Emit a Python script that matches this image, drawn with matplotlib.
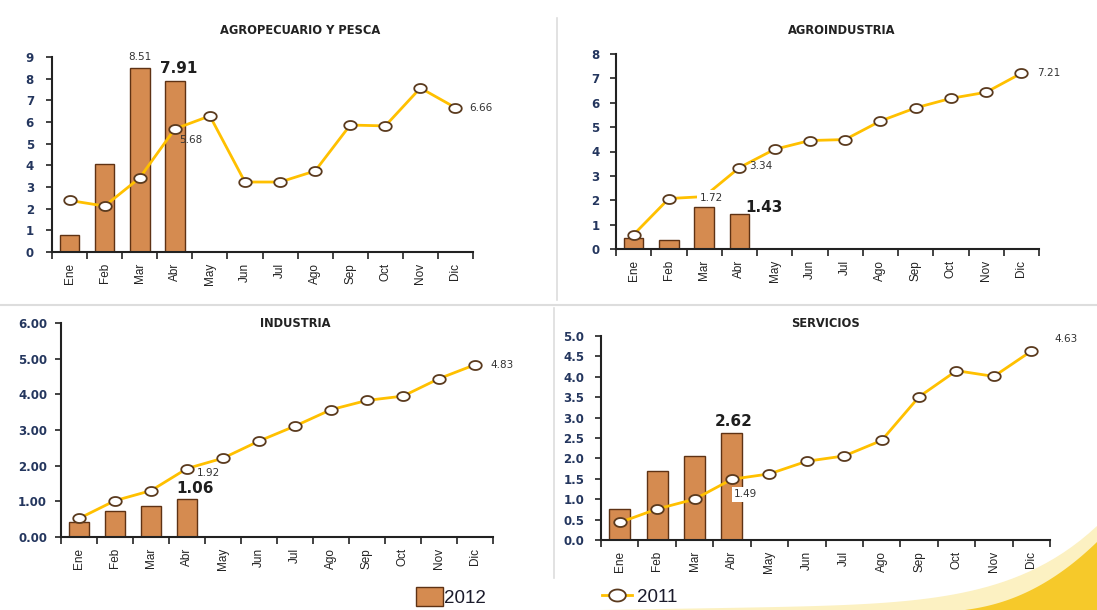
import numpy as np
import matplotlib
matplotlib.use("Agg")
import matplotlib.pyplot as plt
from matplotlib.font_manager import FontProperties
from matplotlib.patches import Polygon, Patch
from matplotlib.lines import Line2D
from matplotlib.path import Path

# ---- data -------------------------------------------------------------
meses = ["Ene", "Feb", "Mar", "Abr", "May", "Jun", "Jul", "Ago", "Sep", "Oct", "Nov", "Dic"]

agro_2012 = [0.78, 4.08, 8.51, 7.91]
agro_2011 = [2.38, 2.12, 3.42, 5.68, 6.28, 3.23, 3.23, 3.74, 5.86, 5.82, 7.57, 6.66]

agroind_2012 = [0.45, 0.38, 1.72, 1.43]
agroind_2011 = [0.59, 2.07, 2.15, 3.34, 4.09, 4.45, 4.49, 5.25, 5.79, 6.18, 6.43, 7.21]

ind_2012 = [0.42, 0.73, 0.87, 1.06]
ind_2011 = [0.52, 1.02, 1.30, 1.92, 2.21, 2.69, 3.11, 3.57, 3.83, 3.95, 4.44, 4.83]

serv_2012 = [0.76, 1.70, 2.06, 2.62]
serv_2011 = [0.43, 0.76, 1.00, 1.49, 1.62, 1.93, 2.06, 2.44, 3.51, 4.15, 4.01, 4.63]

titulos = ["AGROPECUARIO Y PESCA", "AGROINDUSTRIA", "INDUSTRIA", "SERVICIOS"]

# ---- style ------------------------------------------------------------
BAR = "#D58B50"
BAR_EDGE = "#5E3214"
LINE = "#FFC000"
MK_EDGE = "#5A3A1E"
NAVY = "#24365E"
W, H = 1097, 610

# wide, flat circle marker
th = np.linspace(0, 2 * np.pi, 41)
ellipse = Path(np.column_stack([np.cos(th), 0.72 * np.sin(th)]), closed=True)

fig = plt.figure(figsize=(W / 100, H / 100), dpi=100)
fig.patch.set_facecolor("white")


def fx(px):
    return px / W


def fy(py):
    return 1 - py / H


# decorative swoosh in the lower right corner
t = np.linspace(0, 1, 60)
pale_x = 600 + (W - 600) * t
pale_y = 610 - 8 * t - 76 * t ** 6
fig.patches.append(Polygon(np.column_stack([fx(np.r_[pale_x, W, 600]), fy(np.r_[pale_y, 610, 610])]),
                           closed=True, transform=fig.transFigure, facecolor="#FCF1C2",
                           edgecolor="none", zorder=0))
br_x = 965 + (W - 965) * t
br_y = 610 - 18 * t - 50 * t ** 2.2
fig.patches.append(Polygon(np.column_stack([fx(np.r_[br_x, W, 965]), fy(np.r_[br_y, 610, 610])]),
                           closed=True, transform=fig.transFigure, facecolor="#F6C92A",
                           edgecolor="none", zorder=0))

# panel separators
fig.add_artist(Line2D([fx(557), fx(557)], [fy(18), fy(300)], color="#DDDDDD", lw=1.2))
fig.add_artist(Line2D([fx(554), fx(554)], [fy(308), fy(578)], color="#DDDDDD", lw=1.2))
fig.add_artist(Line2D([fx(0), fx(W)], [fy(305), fy(305)], color="#DDDDDD", lw=1.5))

# axes rectangles (left, right, top, bottom) in pixels
boxes = [
    (52, 473, 57, 252),
    (616, 1039, 54, 249),
    (61, 493, 323, 537),
    (601, 1050, 336, 540),
]
ylims = [(0, 9), (0, 8), (0, 6), (0, 5)]
ysteps = [1, 1, 1, 0.5]
yfmts = ["{:.0f}", "{:.0f}", "{:.2f}", "{:.1f}"]
ypads = [9, 8, 6, 8]
bars_all = [agro_2012, agroind_2012, ind_2012, serv_2012]
lines_all = [agro_2011, agroind_2011, ind_2011, serv_2011]
title_pos = [(300, 31), (842, 31), (295, 324), (825, 324)]

tick_fp = FontProperties(family="Liberation Sans", size=8.5)
x = np.arange(len(meses))
axes = []
for i in range(4):
    l, r, t_, b = boxes[i]
    ax = fig.add_axes([fx(l), fy(b), fx(r - l), (b - t_) / H])
    ax.set_facecolor("none")
    axes.append(ax)
    ax.bar(x[:len(bars_all[i])], bars_all[i], width=0.56, color=BAR,
           edgecolor=BAR_EDGE, linewidth=1.0, zorder=2)
    ax.plot(x, lines_all[i], color=LINE, lw=2.0, marker=ellipse, markersize=9,
            markerfacecolor="white", markeredgecolor=MK_EDGE, markeredgewidth=1.3,
            zorder=3)
    ax.set_xlim(-0.5, len(meses) - 0.5)
    ax.set_ylim(*ylims[i])
    yt = np.arange(ylims[i][0], ylims[i][1] + 1e-9, ysteps[i])
    ax.set_yticks(yt)
    ax.set_yticklabels([yfmts[i].format(v) for v in yt], color=NAVY,
                       fontsize=8.5, fontweight="bold")
    ax.set_xticks(x)
    ax.set_xticklabels(meses, rotation=90, fontproperties=tick_fp, color="#222222")
    ax.set_xticks(np.arange(-0.5, len(meses), 1), minor=True)
    ax.tick_params(axis="x", which="major", length=0, pad=8)
    ax.tick_params(axis="x", which="minor", length=5, width=1.2, direction="out", color="#222222")
    ax.tick_params(axis="y", length=4, width=1.2, direction="out", color="#222222", pad=ypads[i])
    for s in ["top", "right"]:
        ax.spines[s].set_visible(False)
    for s in ["left", "bottom"]:
        ax.spines[s].set_linewidth(1.5)
        ax.spines[s].set_color("#222222")
    tx, ty = title_pos[i]
    fig.text(fx(tx), fy(ty), titulos[i], ha="center", va="center",
             fontsize=8.3, fontweight="bold", color="#222222")


def lab(ax, xi, val, dx, dy, ha="left", va="center", big=False, box=False):
    kw = dict(fontsize=11 if big else 7.5, fontweight="bold" if big else "normal",
              color="#1E1E1E" if big else "#333333", ha=ha, va=va, zorder=6)
    if box:
        kw["bbox"] = dict(boxstyle="square,pad=0.25", facecolor="white", edgecolor="none")
    ax.annotate(f"{val:.2f}", xy=(xi, val), xytext=(dx, dy), textcoords="offset points", **kw)


a1, a2, a3, a4 = axes
lab(a1, 2, agro_2012[2], 0, 4, ha="center", va="bottom")
lab(a1, 3, agro_2012[3], 3, 3, ha="center", va="bottom", big=True)
lab(a1, 3, agro_2011[3], 3, -8)
lab(a1, 11, agro_2011[11], 10, 0)

lab(a2, 2, agroind_2012[2], 5, 3, ha="center", va="bottom", box=True)
lab(a2, 3, agroind_2012[3], 4, 5, big=True)
lab(a2, 3, agroind_2011[3], 7, 1)
lab(a2, 11, agroind_2011[11], 11, 0)

lab(a3, 3, ind_2011[3], 7, -3)
lab(a3, 3, ind_2012[3], 6, 2, ha="center", va="bottom", big=True)
lab(a3, 11, ind_2011[11], 11, 0)

lab(a4, 3, serv_2012[3], 1, 3, ha="center", va="bottom", big=True)
lab(a4, 3, serv_2011[3], 10, -11, ha="center", box=True)
lab(a4, 11, serv_2011[11], 17, 9)

# legend
h_bar = Patch(facecolor=BAR, edgecolor=BAR_EDGE, linewidth=1.0)
h_line = Line2D([], [], color=LINE, lw=2.0, marker=ellipse, markersize=12,
                markerfacecolor="white", markeredgecolor=MK_EDGE, markeredgewidth=1.3)
leg_font = FontProperties(family="Liberation Sans", size=13.5)
fig.legend([h_bar], ["2012"], loc="center left", bbox_to_anchor=(fx(416), fy(597)),
           frameon=False, handlelength=1.45, handleheight=1.2, handletextpad=0.05,
           borderpad=0, borderaxespad=0, prop=leg_font, labelcolor="#1B1B2B")
fig.legend([h_line], ["2011"], loc="center left", bbox_to_anchor=(fx(602), fy(597)),
           numpoints=1, frameon=False, handlelength=1.6, handletextpad=0.25,
           borderpad=0, borderaxespad=0, prop=leg_font, labelcolor="#1B1B2B")

fig.savefig("out.png", dpi=100, facecolor="white")
